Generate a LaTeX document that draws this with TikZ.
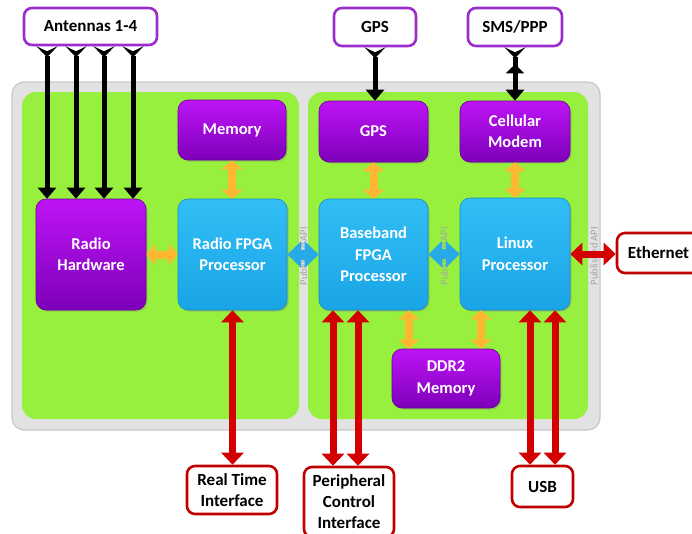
\documentclass[tikz,border=0pt]{standalone}
\usepackage{fontspec}
\setmainfont{Carlito}
\usetikzlibrary{arrows.meta,shadows,calc}
\definecolor{gfill}{RGB}{152,240,62}
\definecolor{panelgray}{RGB}{226,226,226}
\definecolor{panelline}{RGB}{200,200,200}
\definecolor{purpT}{RGB}{190,20,245}
\definecolor{purpB}{RGB}{125,0,185}
\definecolor{blueT}{RGB}{50,190,245}
\definecolor{blueB}{RGB}{25,165,230}
\definecolor{ylw}{RGB}{255,183,50}
\definecolor{redA}{RGB}{210,0,0}
\definecolor{redB}{RGB}{192,0,0}
\definecolor{purpL}{RGB}{155,45,205}
\definecolor{apiblue}{RGB}{40,170,230}
\definecolor{apitext}{RGB}{165,165,165}
\tikzset{
  blk/.style={rounded corners=10pt, text=white, font=\bfseries\fontsize{16.5}{21.5}\selectfont, align=center, inner sep=0pt,
    drop shadow={shadow xshift=1.5pt,shadow yshift=-1.5pt,opacity=0.35}},
  pbox/.style={blk, top color=purpT, bottom color=purpB, draw=purpB!80!black, line width=0.6pt},
  bbox/.style={blk, top color=blueT, bottom color=blueB, draw=blueB!85!black, line width=0.6pt},
  ext/.style={rounded corners=8pt, fill=white, line width=2.6pt, font=\bfseries\fontsize{17}{21}\selectfont, align=center, inner sep=0pt},
  extp/.style={ext, draw=purpL},
  extr/.style={ext, draw=redB},
  yarr/.style={draw=ylw, line width=8pt, {Triangle[width=21pt,length=9pt]}-{Triangle[width=21pt,length=9pt]}},
  rarr/.style={draw=redA, line width=7pt, {Triangle[width=22pt,length=12pt]}-{Triangle[width=22pt,length=12pt]}},
  karr/.style={draw=black, line width=5pt, {Stealth[reversed,width=21pt,length=11pt,inset=5pt]}-{Triangle[width=18pt,length=11pt]}},
  aarr/.style={draw=apiblue, line width=10pt, {Triangle[width=26pt,length=14pt]}-{Triangle[width=26pt,length=14pt]}},
  api/.style={rotate=90, text=apitext, font=\fontsize{10.5}{12}\selectfont, inner sep=0pt},
}
\begin{document}
\begin{tikzpicture}[x=1pt,y=-1pt]
\useasboundingbox (0,0) rectangle (692,533);
% panels
\draw[fill=panelgray, draw=panelline, line width=1.2pt, rounded corners=12pt] (12,82) rectangle (600,430);
\fill[gfill, rounded corners=14pt] (22,92) rectangle (299,419);
\fill[gfill, rounded corners=14pt] (308,92) rectangle (588,419);
% API labels
\node[api] (api1) at (303.5,256) {Published API};
\node[api] (api2) at (444,256) {Published API};
\node[api] (api3) at (594,256) {Published API};
% inner blocks
\node[pbox, minimum width=108pt, minimum height=60pt] (mem) at (232,130) {Memory};
\node[pbox, minimum width=110pt, minimum height=111pt] (rh) at (91,254.5) {Radio\\Hardware};
\node[bbox, minimum width=109pt, minimum height=111pt] (rfpga) at (232.5,254.5) {Radio FPGA\\Processor};
\node[pbox, minimum width=109pt, minimum height=61pt] (gps) at (373.5,131.5) {GPS};
\node[pbox, minimum width=110pt, minimum height=61pt] (cm) at (515,131.5) {Cellular\\Modem};
\node[bbox, minimum width=109pt, minimum height=111pt] (bb) at (373.5,254.5) {Baseband\\FPGA\\Processor};
\node[bbox, minimum width=110pt, minimum height=112pt] (lin) at (515,254) {Linux\\Processor};
\node[pbox, minimum width=108pt, minimum height=59pt] (ddr) at (446,378.5) {DDR2\\Memory};
% external nodes
\node[extp, minimum width=133pt, minimum height=37pt] (ant) at (90.5,26.5) {Antennas 1-4};
\node[extp, minimum width=82pt, minimum height=38pt] (gpsT) at (375,27) {GPS};
\node[extp, minimum width=94pt, minimum height=38pt] (sms) at (515,27) {SMS/PPP};
\node[extr, minimum width=83pt, minimum height=40pt] (eth) at (658.5,253) {Ethernet};
\node[extr, minimum width=90pt, minimum height=48pt] (rti) at (232,490) {Real Time\\Interface};
\node[extr, minimum width=90pt, minimum height=70pt] (pci) at (349,502) {Peripheral\\Control\\Interface};
\node[extr, minimum width=61pt, minimum height=41pt] (usb) at (542.5,486.5) {USB};
% black arrows
\foreach \x in {47,76,104,133} \draw[karr] (ant.south -| \x,0) -- (rh.north -| \x,0);
\draw[karr] (gpsT.south) -- (gpsT.south |- gps.north);
\draw[karr, {Stealth[reversed,width=21pt,length=11pt,inset=5pt] Triangle[width=18pt,length=9pt,sep=6pt]}-{Triangle[width=18pt,length=11pt]}] (sms.south) -- (cm.north);
% yellow arrows
\draw[yarr] (mem.south) -- (rfpga.north -| mem.south);
\draw[yarr] (rh.east) -- (rfpga.west);
\draw[yarr] (gps.south) -- (bb.north);
\draw[yarr] (cm.south) -- (lin.north -| cm.south);
\draw[yarr] ([xshift=35.5pt]bb.south) -- ([xshift=35.5pt]bb.south |- ddr.north);
\draw[yarr] ([xshift=-34pt]lin.south) -- ([xshift=-34pt]lin.south |- ddr.north);
% API arrows
\draw[aarr] (rfpga.east) -- (bb.west);
\draw[aarr] (bb.east) -- (lin.west);
% red arrows
\draw[rarr] (lin.east) -- (lin.east -| eth.west);
\draw[rarr] (rfpga.south) -- (rfpga.south |- rti.north);
\draw[rarr] ([xshift=-40.5pt]bb.south) -- ([xshift=-40.5pt]bb.south |- pci.north);
\draw[rarr] ([xshift=-15.5pt]bb.south) -- ([xshift=-15.5pt]bb.south |- pci.north);
\draw[rarr] ([xshift=15pt]lin.south) -- ([xshift=15pt]lin.south |- usb.north);
\draw[rarr] ([xshift=40pt]lin.south) -- ([xshift=40pt]lin.south |- usb.north);
\end{tikzpicture}
\end{document}
